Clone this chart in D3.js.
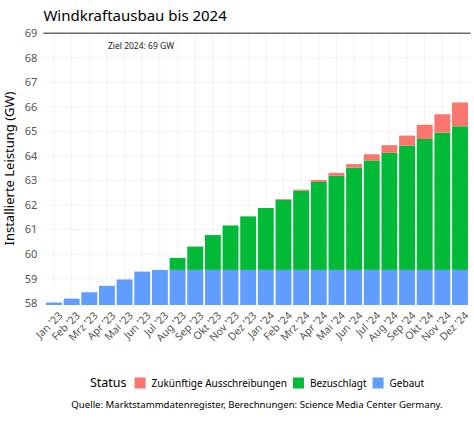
<!DOCTYPE html>
<meta charset="utf-8">
<html>
<head>
<title>Windkraftausbau bis 2024</title>
<style>
  body { margin: 0; background: #fff; }
  text { font-family: "Noto Sans", sans-serif; }
  .grid line { stroke: #ebebeb; stroke-width: 0.6px; }
</style>
<script src="https://cdn.jsdelivr.net/npm/d3@7"></script>
</head>
<body>
<script>

    var width = 474, height = 421;
    var margin = {top: 32, right: 3.4, bottom: 116, left: 43.4};

    // months Jan '23 .. Dez '24
    var monate = ["Jan '23","Feb '23","Mrz '23","Apr '23","Mai '23","Jun '23","Jul '23","Aug '23",
                  "Sep '23","Okt '23","Nov '23","Dez '23","Jan '24","Feb '24","Mrz '24","Apr '24",
                  "Mai '24","Jun '24","Jul '24","Aug '24","Sep '24","Okt '24","Nov '24","Dez '24"];

    // installed capacity (GW, absolute)
    var gebaut = [58.03, 58.19, 58.45, 58.71, 58.97, 59.29, 59.36, 59.36,
                  59.36, 59.36, 59.36, 59.36, 59.36, 59.36, 59.36, 59.36,
                  59.36, 59.36, 59.36, 59.36, 59.36, 59.36, 59.36, 59.36];

    // awarded, not yet built (GW, on top of gebaut)
    var bezuschlagt = [0, 0, 0, 0, 0, 0, 0, 0.49,
                       0.95, 1.42, 1.81, 2.18, 2.52, 2.86, 3.23, 3.58,
                       3.83, 4.17, 4.46, 4.77, 5.06, 5.33, 5.59, 5.85];

    // future tenders (GW, on top)
    var zukuenftig = [0, 0, 0, 0, 0, 0, 0, 0,
                      0, 0, 0, 0, 0, 0.03, 0.04, 0.08,
                      0.12, 0.14, 0.25, 0.31, 0.41, 0.58, 0.75, 0.97];

    var yTicks = [58, 59, 60, 61, 62, 63, 64, 65, 66, 67, 68, 69];
    var ziel = 69;

    var statusNamen = ["Zukünftige Ausschreibungen", "Bezuschlagt", "Gebaut"];
    var farben = ["#F8766D", "#00BA38", "#619CFF"];

    var svg = d3.select("body").append("svg")
        .attr("width", width)
        .attr("height", height);

    var x = d3.scaleBand()
        .domain(monate)
        .range([margin.left, width - margin.right])
        .paddingInner(0.1)
        .paddingOuter(0.15);

    var y = d3.scaleLinear()
        .domain([57.93, 69.05])
        .range([height - margin.bottom, margin.top]);

    // grid
    var grid = svg.append("g").attr("class", "grid");
    grid.selectAll("line.h")
      .data(yTicks)
      .enter().append("line")
      .attr("x1", margin.left).attr("x2", width - margin.right)
      .attr("y1", d => y(d)).attr("y2", d => y(d));
    grid.selectAll("line.v")
      .data(monate)
      .enter().append("line")
      .attr("x1", d => x(d) + x.bandwidth() / 2).attr("x2", d => x(d) + x.bandwidth() / 2)
      .attr("y1", margin.top).attr("y2", height - margin.bottom);

    // stacked bars
    var rows = monate.map(function(m, i) {
        var b = y.domain()[0];
        return [
          {m: m, y0: b, y1: gebaut[i], c: farben[2]},
          {m: m, y0: gebaut[i], y1: gebaut[i] + bezuschlagt[i], c: farben[1]},
          {m: m, y0: gebaut[i] + bezuschlagt[i], y1: gebaut[i] + bezuschlagt[i] + zukuenftig[i], c: farben[0]}
        ];
    });

    svg.append("g").selectAll("rect")
      .data(rows.flat().filter(d => d.y1 > d.y0))
      .enter().append("rect")
      .attr("x", d => x(d.m))
      .attr("width", x.bandwidth())
      .attr("y", d => y(d.y1))
      .attr("height", d => y(d.y0) - y(d.y1))
      .style("fill", d => d.c);

    // target line
    svg.append("line")
      .attr("x1", margin.left).attr("x2", width - margin.right)
      .attr("y1", y(ziel)).attr("y2", y(ziel))
      .style("stroke", "#6b6b6b")
      .style("stroke-width", 1.6);

    svg.append("text")
      .attr("x", 141)
      .attr("y", y(ziel) + 16)
      .attr("text-anchor", "middle")
      .style("font-size", "8.5px")
      .style("fill", "#222")
      .text("Ziel 2024: " + ziel + " GW");

    // y axis labels
    svg.append("g").selectAll("text")
      .data(yTicks)
      .enter().append("text")
      .attr("x", margin.left - 6)
      .attr("y", d => y(d))
      .attr("dy", "0.35em")
      .attr("text-anchor", "end")
      .style("font-size", "11px")
      .style("fill", "#555")
      .text(d => d);

    // x axis labels
    svg.append("g").selectAll("text")
      .data(monate)
      .enter().append("text")
      .attr("transform", d => "translate(" + (x(d) + x.bandwidth() / 2 + 4) + "," + (height - margin.bottom + 6) + ") rotate(-45)")
      .attr("text-anchor", "end")
      .attr("dy", "0.7em")
      .style("font-size", "10.5px")
      .style("fill", "#555")
      .text(d => d);

    // titles
    svg.append("text")
      .attr("x", margin.left)
      .attr("y", 21)
      .style("font-size", "15px")
      .style("fill", "#000")
      .text("Windkraftausbau bis 2024");

    svg.append("text")
      .attr("transform", "translate(14," + ((margin.top + height - margin.bottom) / 2) + ") rotate(-90)")
      .attr("text-anchor", "middle")
      .style("font-size", "13px")
      .style("fill", "#000")
      .text("Installierte Leistung (GW)");

    // legend
    var cx = (margin.left + width - margin.right) / 2;
    var leg = svg.append("g");
    var legY = 383;
    var lt = leg.append("text")
      .attr("x", 0).attr("y", legY).attr("dy", "0.35em")
      .style("font-size", "12.5px")
      .text("Status");
    var pos = lt.node().getComputedTextLength() + 8;
    statusNamen.forEach(function(s, i) {
        leg.append("rect")
          .attr("x", pos).attr("y", legY - 5.5)
          .attr("width", 11).attr("height", 11)
          .style("fill", farben[i]);
        var t = leg.append("text")
          .attr("x", pos + 17).attr("y", legY).attr("dy", "0.35em")
          .style("font-size", "10px")
          .text(s);
        pos += 17 + t.node().getComputedTextLength() + 6;
    });
    var lw = pos - 6;
    leg.attr("transform", "translate(" + (cx - lw / 2) + ",0)");

    svg.append("text")
      .attr("x", cx)
      .attr("y", 405)
      .attr("dy", "0.35em")
      .attr("text-anchor", "middle")
      .style("font-size", "9.6px")
      .style("fill", "#000")
      .text("Quelle: Marktstammdatenregister, Berechnungen: Science Media Center Germany.");

</script>
</body>
</html>
